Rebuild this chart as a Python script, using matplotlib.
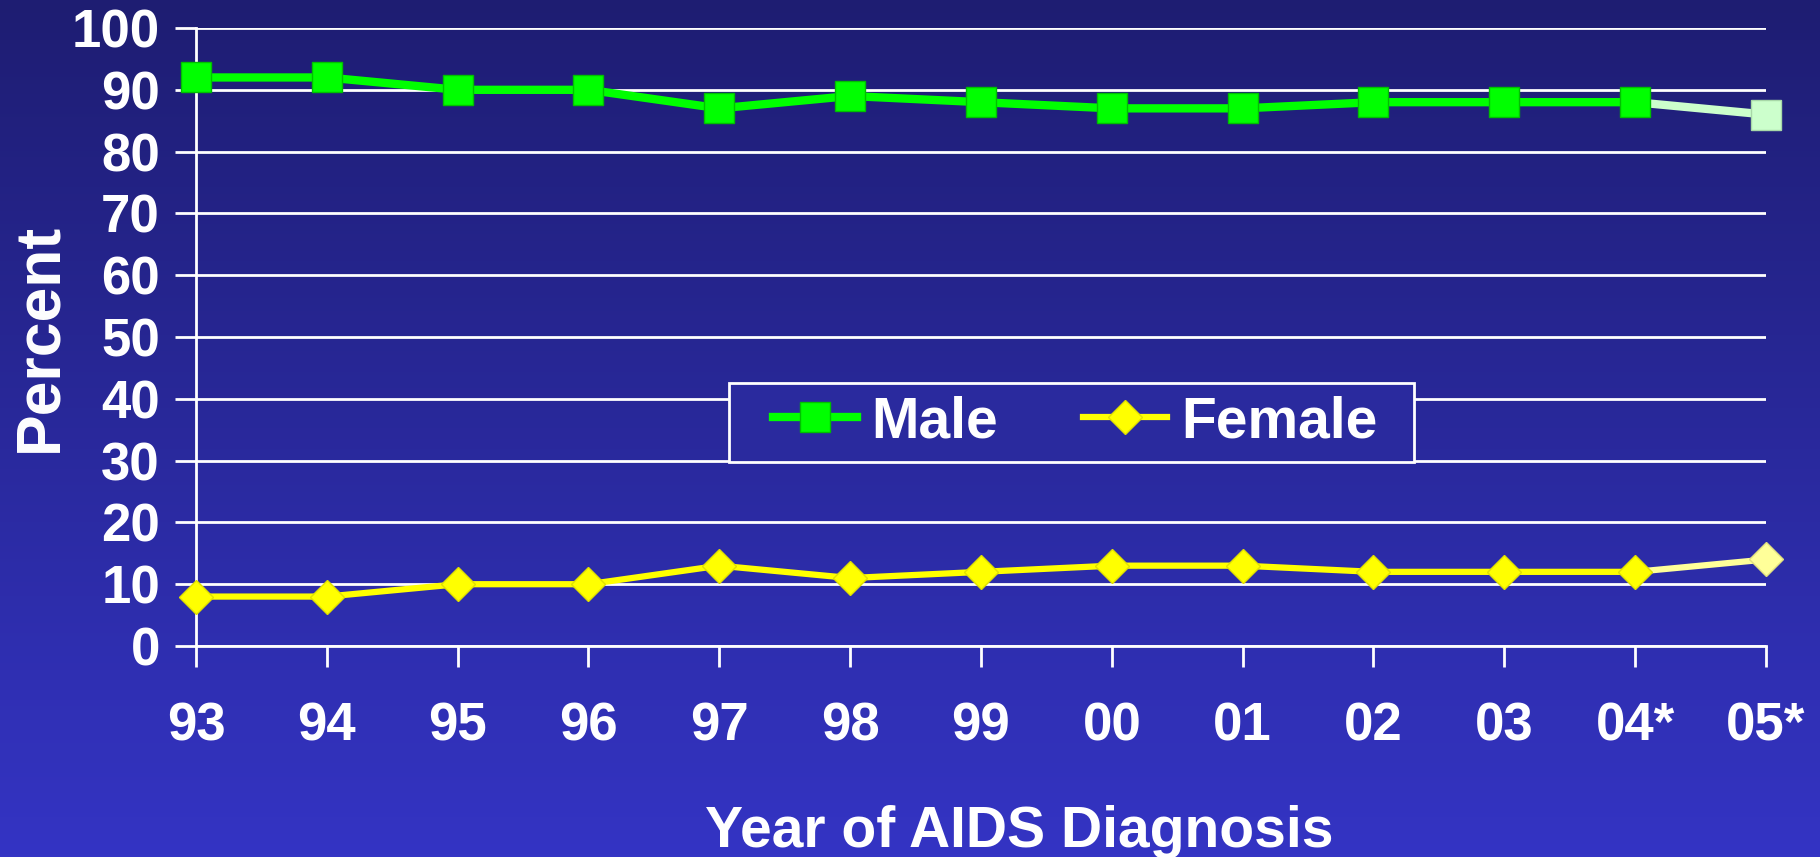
import numpy as np
import matplotlib.pyplot as plt
from matplotlib.colors import LinearSegmentedColormap
from matplotlib.patches import Rectangle

plt.rcParams['font.family'] = ['Liberation Sans', 'DejaVu Sans']
plt.rcParams['font.weight'] = 'bold'

years = ['93', '94', '95', '96', '97', '98', '99', '00', '01', '02', '03', '04*', '05*']
male = [92, 92, 90, 90, 87, 89, 88, 87, 87, 88, 88, 88, 86]
female = [8, 8, 10, 10, 13, 11, 12, 13, 13, 12, 12, 12, 14]

fig = plt.figure(figsize=(18.2, 8.57), dpi=100)

# gradient background
bg = fig.add_axes([0, 0, 1, 1], zorder=-10)
cmap = LinearSegmentedColormap.from_list('bg', ['#1e1d72', '#3434c4'])
bg.imshow(np.linspace(0, 1, 256).reshape(-1, 1), aspect='auto', cmap=cmap,
          extent=[0, 1, 0, 1])
bg.axis('off')

ax = fig.add_axes([0.1077, 0.2462, 0.8626, 0.7211])
ax.patch.set_alpha(0)
x = np.arange(len(years))

# estimated last year drawn pale
ax.plot(x[-2:], male[-2:], '-', color='#ccffcc', lw=6, zorder=3, clip_on=False)
ax.plot(x[-1:], male[-1:], 's', color='#ccffcc', ms=21, mec='#a8d8a8', mew=1,
        zorder=3, clip_on=False)
ax.plot(x[-2:], female[-2:], '-', color='#ffff99', lw=4.5, zorder=3, clip_on=False)
ax.plot(x[-1:], female[-1:], 'D', color='#ffff99', ms=17.5, mec='#e0e080', mew=1,
        zorder=3, clip_on=False)

l1, = ax.plot(x[:-1], male[:-1], '-s', color='#00ff00', lw=6, ms=21,
              mec='#00c000', mew=1, zorder=4, clip_on=False, label='Male')
l2, = ax.plot(x[:-1], female[:-1], '-D', color='#ffff00', lw=4.5, ms=17.5,
              mec='#e0e000', mew=1, zorder=4, clip_on=False, label='Female')

ax.set_xlim(0, 12)
ax.set_ylim(0, 100)
ax.set_xticks(x)
ax.set_xticklabels(years)
ax.set_yticks(range(0, 101, 10))

for s in ['top', 'right']:
    ax.spines[s].set_visible(False)
for s in ['left', 'bottom']:
    ax.spines[s].set_color('white')
    ax.spines[s].set_linewidth(2)

ax.grid(axis='y', color='white', lw=2)
ax.set_axisbelow(True)
ax.tick_params(axis='y', colors='white', length=15, width=2, pad=11, labelsize=38)
ax.tick_params(axis='x', colors='white', length=15, width=2, pad=25, labelsize=38)

ax.set_ylabel('Percent', color='white', fontsize=45, fontweight='bold', va='center')
ax.yaxis.set_label_coords(-0.0994, 0.5)
ax.set_xlabel('Year of AIDS Diagnosis', color='white', fontsize=41,
              fontweight='bold', va='center')
ax.xaxis.set_label_coords(0.5245, -0.301)

# legend frame
ax.add_patch(Rectangle((0.3395, 0.298), 0.4365, 0.128, transform=ax.transAxes,
                       facecolor='#2a2a9e', edgecolor='white', lw=2, zorder=6))
leg = ax.legend(handles=[l1, l2], loc='center', bbox_to_anchor=(0.56, 0.362),
                ncol=2, frameon=False, fontsize=41, handlelength=1.47,
                handletextpad=0.25, columnspacing=1.5, labelcolor='white')
leg.set_zorder(7)

fig.savefig('out.png', dpi=100)
